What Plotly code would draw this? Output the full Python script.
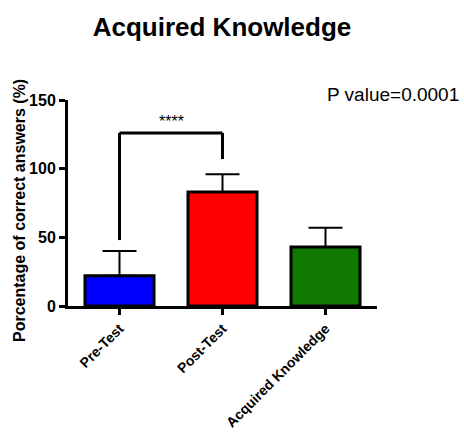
import plotly.graph_objects as go

categories = ["Pre-Test", "Post-Test", "Acquired Knowledge"]
means = [22, 83, 43]
errors = [18, 13, 14]
colors = ["#0000FF", "#FF0000", "#107A00"]
y_ticks = [0, 50, 100, 150]

bracket_top = 126
bracket_left_bottom = 48
bracket_right_bottom = 107
stars_y = 134
p_text = "P value=0.0001"
stars_text = "****"
y_title = "Porcentage of correct answers (%)"

FONT = "Arial, Liberation Sans, sans-serif"
L, R, T, B = 68, 87, 100, 129
W, H = 464, 435
PW, PH = W - L - R, H - T - B

fig = go.Figure()
fig.add_trace(go.Bar(
    x=list(range(len(categories))),
    y=means,
    width=0.67,
    marker=dict(color=colors, line=dict(color="black", width=3)),
    error_y=dict(type="data", symmetric=False, array=errors,
                 arrayminus=[0] * len(errors), color="black",
                 thickness=2, width=17),
    showlegend=False,
))

line = dict(color="black", width=3)
fig.add_shape(type="line", xref="x", yref="y", x0=0, x1=0,
              y0=bracket_left_bottom, y1=bracket_top, line=line)
fig.add_shape(type="line", xref="x", yref="y", x0=0, x1=1,
              y0=bracket_top, y1=bracket_top, line=line)
fig.add_shape(type="line", xref="x", yref="y", x0=1, x1=1,
              y0=bracket_right_bottom, y1=bracket_top, line=line)

fig.add_annotation(x=0.5, y=stars_y, xref="x", yref="y", text=stars_text,
                   showarrow=False, font=dict(family=FONT, size=16, color="black"),
                   yanchor="middle")
fig.add_annotation(x=(393 - L) / PW, y=(H - B - 94) / PH, xref="paper", yref="paper",
                   text=p_text, showarrow=False, xanchor="center", yanchor="middle",
                   font=dict(family=FONT, size=19, color="black"))
fig.add_annotation(x=(19 - L) / PW, y=(H - B - 211) / PH, xref="paper", yref="paper",
                   text="<b>%s</b>" % y_title, textangle=-90, showarrow=False,
                   xanchor="center", yanchor="middle",
                   font=dict(family=FONT, size=16, color="black"))

fig.update_layout(
    width=W, height=H,
    margin=dict(l=L, r=R, t=T, b=B, autoexpand=False),
    paper_bgcolor="white", plot_bgcolor="white",
    title=dict(text="<b>Acquired Knowledge</b>", x=222 / W, xanchor="center",
               y=1 - 27 / H, yanchor="middle",
               font=dict(family=FONT, size=26, color="black")),
    xaxis=dict(
        range=[-0.5, 2.5], tickmode="array",
        tickvals=list(range(len(categories))),
        ticktext=["<b>%s</b>" % c for c in categories],
        tickangle=-45, ticks="outside", ticklen=6, tickwidth=3, tickcolor="black",
        showline=True, linecolor="black", linewidth=3, showgrid=False,
        zeroline=False, automargin=False,
        tickfont=dict(family=FONT, size=14, color="black"),
    ),
    yaxis=dict(
        range=[0, 150], tickmode="array", tickvals=y_ticks,
        ticktext=["<b>%d</b>" % v for v in y_ticks],
        ticks="outside", ticklen=6, tickwidth=3, tickcolor="black",
        showline=True, linecolor="black", linewidth=3, showgrid=False,
        zeroline=False, automargin=False,
        tickfont=dict(family=FONT, size=16, color="black"),
    ),
)

fig.write_html("out.html", config={"displayModeBar": False},
               post_script="document.body.style.margin='0px';")
